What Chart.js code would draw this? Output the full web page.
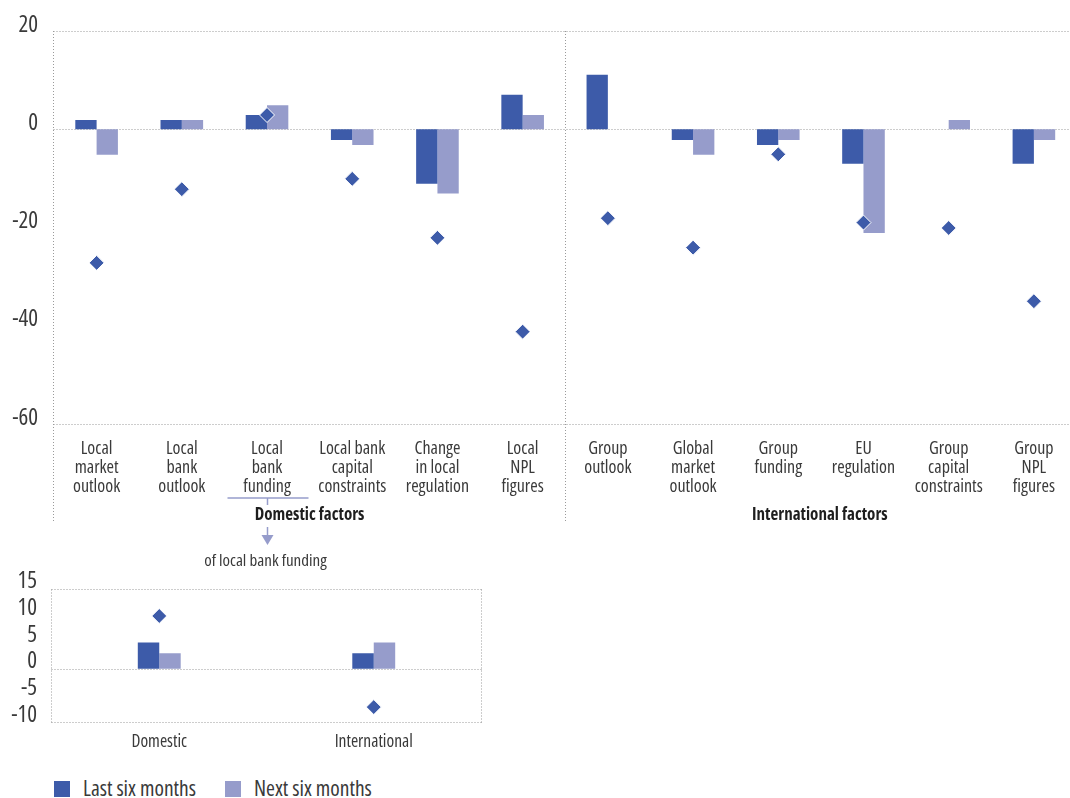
<!DOCTYPE html>
<html>
<head>
<meta charset="utf-8">
<script src="https://cdn.jsdelivr.net/npm/chart.js@4.4.1/dist/chart.umd.min.js"></script>
<style>
  html, body { margin: 0; padding: 0; background: #fff; overflow: hidden; width: 1070px; height: 798px; }
  #wrap { position: relative; width: 1070px; height: 798px; overflow: hidden; }
  #mainChart  { position: absolute; left: 0; top: 0; }
  #insetChart { position: absolute; left: 0; top: 560px; }
  .legend { position: absolute; top: 775px; left: 54px; height: 26px; white-space: nowrap;
            font-family: 'Open Sans', sans-serif; font-stretch: condensed;
            font-size: 21.5px; color: #3a3a3a; line-height: 26px; }
  .legend span.sw { display: inline-block; width: 16px; height: 16px; vertical-align: -1px; margin-right: 13px; }
  .legend span.item { display: inline-block; }
  .legend span.item + span.item { margin-left: 29px; }
</style>
</head>
<body>
<div id="wrap">
  <canvas id="mainChart" width="1085" height="575"></canvas>
  <canvas id="insetChart" width="500" height="200"></canvas>
  <div class="legend">
    <span class="item"><span class="sw" style="background:#3d5ba9"></span>Last six months</span><span class="item"><span class="sw" style="background:#969ccb"></span>Next six months</span>
  </div>
</div>
<script>
(function () {
  'use strict';

  // ── Data ────────────────────────────────────────────────────────────────
  var categories = [
    ['Local', 'market', 'outlook'],
    ['Local', 'bank', 'outlook'],
    ['Local', 'bank', 'funding'],
    ['Local bank', 'capital', 'constraints'],
    ['Change', 'in local', 'regulation'],
    ['Local', 'NPL', 'figures'],
    ['Group', 'outlook'],
    ['Global', 'market', 'outlook'],
    ['Group', 'funding'],
    ['EU', 'regulation'],
    ['Group', 'capital', 'constraints'],
    ['Group', 'NPL', 'figures']
  ];
  var lastSix  = [1.9, 1.9, 2.9, -2.2, -11.1, 7.0, 11.1, -2.2, -3.2, -7.0, 0, -7.0];
  var nextSix  = [-5.2, 1.9, 4.9, -3.2, -13.1, 2.9, 0, -5.2, -2.2, -21.1, 1.9, -2.2];
  var diamonds = [-27.2, -12.2, 2.9, -10.1, -22.1, -41.2, -18.1, -24.1, -5.1, -19.0, -20.1, -35.0];
  var mainTicks = [20, 0, -20, -40, -60];

  var insetCategories = ['Domestic', 'International'];
  var insetLast     = [4.9, 2.9];
  var insetNext     = [2.9, 4.9];
  var insetDiamonds = [9.9, -7.2];
  var insetTicks    = [15, 10, 5, 0, -5, -10];

  // ── Style ───────────────────────────────────────────────────────────────
  var DARK  = '#3d5ba9';
  var LIGHT = '#969ccb';
  var GRID  = '#9a9a9a';
  var TEXT  = '#3a3a3a';
  var FAMILY = "'Open Sans', 'DejaVu Sans Condensed', sans-serif";
  var COND   = 'normal condensed';   // weight + font-stretch, goes into ctx.font as is

  Chart.defaults.font.family = FAMILY;
  Chart.defaults.color = TEXT;

  function _dotted(ctx, x1, y1, x2, y2) {
    ctx.beginPath();
    ctx.moveTo(x1, y1);
    ctx.lineTo(x2, y2);
    ctx.stroke();
  }

  function _fixedTicks(list) {
    return function (s) { s.ticks = list.map(function (v) { return { value: v }; }); };
  }

  function _datasets(last, next, dia) {
    return [
      { type: 'line', data: dia, showLine: false, order: 0,
        pointStyle: 'rectRot', pointRadius: 7.5, pointHoverRadius: 7.5,
        pointBackgroundColor: DARK, pointBorderColor: '#ffffff', pointBorderWidth: 1 },
      { label: 'Last six months', data: last, backgroundColor: DARK, order: 1 },
      { label: 'Next six months', data: next, backgroundColor: LIGHT, order: 1 }
    ];
  }

  // ── Main chart frame + annotations ──────────────────────────────────────
  var mainFrame = {
    id: 'mainFrame',
    beforeDatasetsDraw: function (chart) {
      var ctx = chart.ctx, a = chart.chartArea, x = chart.scales.x, y = chart.scales.y;
      var split = Math.round((x.getPixelForValue(5) + x.getPixelForValue(6)) / 2) + 0.5;
      var left = Math.round(a.left) - 0.5;
      ctx.save();
      ctx.strokeStyle = GRID;
      ctx.lineWidth = 1;
      ctx.setLineDash([1, 2]);
      [20, 0, -60].forEach(function (v) {
        var py = Math.round(y.getPixelForValue(v)) + 0.5;
        _dotted(ctx, left, py, 1070, py);
      });
      _dotted(ctx, left, a.top, left, a.bottom + 97);
      _dotted(ctx, split, a.top, split, a.bottom + 97);
      ctx.restore();
    },
    afterDraw: function (chart) {
      var ctx = chart.ctx, a = chart.chartArea, x = chart.scales.x;
      var split = (x.getPixelForValue(5) + x.getPixelForValue(6)) / 2;
      ctx.save();
      ctx.fillStyle = '#1e1e1e';
      ctx.textAlign = 'center';
      ctx.textBaseline = 'middle';
      ctx.font = 'bold condensed 17px ' + FAMILY;
      ctx.fillText('Domestic factors', (a.left + split) / 2, 515);
      ctx.fillText('International factors', (split + a.right) / 2 - 1, 515);

      // bracket + arrow under "Local bank funding"
      var cx = Math.round(x.getPixelForValue(2)) + 0.5;
      ctx.strokeStyle = LIGHT;
      ctx.fillStyle = LIGHT;
      ctx.lineWidth = 1.5;
      _dotted(ctx, cx - 40, 498, cx + 41, 498);
      _dotted(ctx, cx, 498, cx, 505);
      _dotted(ctx, cx, 527, cx, 537);
      ctx.beginPath();
      ctx.moveTo(cx - 6, 535);
      ctx.lineTo(cx + 6, 535);
      ctx.lineTo(cx, 545);
      ctx.closePath();
      ctx.fill();

      ctx.fillStyle = TEXT;
      ctx.font = COND + ' 17px ' + FAMILY;
      ctx.fillText('of local bank funding', cx - 2, 561);
      ctx.restore();
    }
  };

  new Chart(document.getElementById('mainChart'), {
    type: 'bar',
    data: { labels: categories, datasets: _datasets(lastSix, nextSix, diamonds) },
    options: {
      responsive: false,
      animation: false,
      events: [],
      categoryPercentage: 0.5,
      barPercentage: 1.0,
      layout: { padding: { left: 0, right: 5, top: 31, bottom: 0 } },
      plugins: { legend: { display: false }, tooltip: { enabled: false } },
      scales: {
        x: {
          grid: { display: false, drawTicks: false },
          border: { display: false },
          ticks: { autoSkip: false, maxRotation: 0, minRotation: 0, padding: 16,
                   font: { size: 18, weight: COND, lineHeight: 1.04 }, color: TEXT },
          afterFit: function (s) { s.height = 151; }
        },
        y: {
          min: -60, max: 20,
          grid: { display: false, drawTicks: false },
          border: { display: false },
          afterBuildTicks: _fixedTicks(mainTicks),
          ticks: { autoSkip: false, padding: 16, labelOffset: -6,
                   font: { size: 23, weight: COND }, color: TEXT },
          afterFit: function (s) { s.width = 54; }
        }
      }
    },
    plugins: [mainFrame]
  });

  // ── Inset chart ─────────────────────────────────────────────────────────
  var insetFrame = {
    id: 'insetFrame',
    beforeDatasetsDraw: function (chart) {
      var ctx = chart.ctx, a = chart.chartArea, y = chart.scales.y;
      var l = Math.round(a.left) - 0.5, r = Math.round(a.right) + 0.5;
      var t = Math.round(a.top) + 0.5, b = Math.round(a.bottom) + 0.5;
      var z = Math.round(y.getPixelForValue(0)) + 0.5;
      ctx.save();
      ctx.strokeStyle = GRID;
      ctx.lineWidth = 1;
      ctx.setLineDash([1, 2]);
      _dotted(ctx, l, t, r, t);
      _dotted(ctx, l, b, r, b);
      _dotted(ctx, l, z, r, z);
      _dotted(ctx, l, t, l, b);
      _dotted(ctx, r, t, r, b);
      ctx.restore();
    }
  };

  new Chart(document.getElementById('insetChart'), {
    type: 'bar',
    data: { labels: insetCategories, datasets: _datasets(insetLast, insetNext, insetDiamonds) },
    options: {
      responsive: false,
      animation: false,
      events: [],
      categoryPercentage: 0.2,
      barPercentage: 1.0,
      layout: { padding: { left: 0, right: 19, top: 24, bottom: 0 } },
      plugins: { legend: { display: false }, tooltip: { enabled: false } },
      scales: {
        x: {
          grid: { display: false, drawTicks: false },
          border: { display: false },
          ticks: { autoSkip: false, maxRotation: 0, minRotation: 0, padding: 10,
                   font: { size: 17.5, weight: COND }, color: TEXT },
          afterFit: function (s) { s.height = 38; }
        },
        y: {
          min: -10, max: 15,
          grid: { display: false, drawTicks: false },
          border: { display: false },
          afterBuildTicks: _fixedTicks(insetTicks),
          ticks: { autoSkip: false, padding: 15, labelOffset: -7,
                   font: { size: 23, weight: COND }, color: TEXT },
          afterFit: function (s) { s.width = 52; }
        }
      }
    },
    plugins: [insetFrame]
  });
}());
</script>
</body>
</html>
